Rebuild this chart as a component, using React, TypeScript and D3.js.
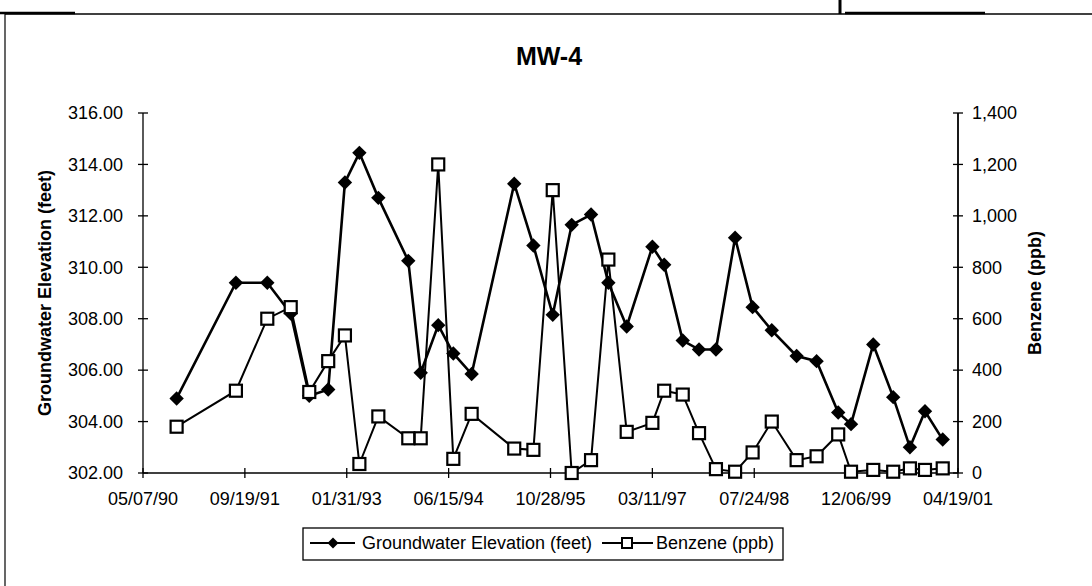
import React from 'react';
import * as d3 from 'd3';

// sampling dates (MW-4)
const sampleDates = [
  '1990-10-19', '1991-08-06', '1992-01-07', '1992-05-01', '1992-07-31', '1992-11-01',
  '1993-01-22', '1993-04-03', '1993-07-05', '1993-11-29', '1994-01-29', '1994-04-25',
  '1994-07-08', '1994-10-06', '1995-05-03', '1995-08-05', '1995-11-08', '1996-02-09',
  '1996-05-14', '1996-08-07', '1996-11-05', '1997-03-11', '1997-05-08', '1997-08-07',
  '1997-10-26', '1998-01-17', '1998-04-21', '1998-07-16', '1998-10-18', '1999-02-17',
  '1999-05-26', '1999-09-09', '1999-11-11', '2000-02-28', '2000-06-05', '2000-08-26',
  '2000-11-08', '2001-02-03',
];

// groundwater elevation, feet
const groundwater = [
  304.9, 309.4, 309.4, 308.2, 305.0, 305.25, 313.3, 314.45, 312.7, 310.25, 305.9, 307.75,
  306.65, 305.85, 313.25, 310.85, 308.15, 311.65, 312.05, 309.4, 307.7, 310.8, 310.1, 307.15,
  306.8, 306.8, 311.15, 308.45, 307.55, 306.55, 306.35, 304.35, 303.9, 307.0, 304.95, 303.0,
  304.4, 303.3,
];

// benzene, ppb
const benzene = [
  180, 320, 600, 645, 315, 435, 535, 35, 220, 135, 135, 1200, 55, 230, 95, 90, 1100, 0, 50,
  830, 160, 195, 320, 305, 155, 15, 5, 80, 200, 50, 65, 150, 5, 12, 5, 18, 12, 18,
];

const xTickDates = [
  '1990-05-07', '1991-09-19', '1993-01-31', '1994-06-15', '1995-10-28',
  '1997-03-11', '1998-07-24', '1999-12-06', '2001-04-19',
];
const leftTicks = [302, 304, 306, 308, 310, 312, 314, 316];
const rightTicks = [0, 200, 400, 600, 800, 1000, 1200, 1400];

const FONT = '"Liberation Sans", Arial, sans-serif';
const parse = d3.utcParse('%Y-%m-%d');
const fmtDate = d3.utcFormat('%m/%d/%y');

export default function App() {
  const width = 1092;
  const height = 586;
  const left = 143, right = 958, top = 113, bottom = 473;

  const x = d3.scaleUtc()
    .domain([parse(xTickDates[0])!, parse(xTickDates[xTickDates.length - 1])!])
    .range([left, right]);
  const yL = d3.scaleLinear().domain([302, 316]).range([bottom, top]);
  const yR = d3.scaleLinear().domain([0, 1400]).range([bottom, top]);

  const gwData = sampleDates.map((d, i) => ({ x: x(parse(d)!), y: yL(groundwater[i]) }));
  const bzData = sampleDates.map((d, i) => ({ x: x(parse(d)!), y: yR(benzene[i]) }));

  const line = d3.line<{ x: number; y: number }>().x(d => d.x).y(d => d.y);
  const diamond = (cx: number, cy: number, r = 7.2) =>
    `M${cx},${cy - r}L${cx + r},${cy}L${cx},${cy + r}L${cx - r},${cy}Z`;
  const sq = 12;

  const midY = (top + bottom) / 2;

  return (
    <svg width={width} height={height} style={{ position: 'absolute', left: 0, top: 0, background: '#fff' }}
      fontFamily={FONT}>
      {/* page frame */}
      <line x1={5} y1={14} x2={width} y2={14} stroke="#000" strokeWidth={1.5} />
      <line x1={0} y1={13} x2={75} y2={13} stroke="#000" strokeWidth={2.5} />
      <line x1={845} y1={13} x2={985} y2={13} stroke="#000" strokeWidth={2.5} />
      <line x1={840} y1={0} x2={840} y2={14} stroke="#000" strokeWidth={3} />
      <line x1={5} y1={14} x2={5} y2={height} stroke="#000" strokeWidth={1.2} />

      <text x={549} y={65} textAnchor="middle" fontSize={25} fontWeight="bold">MW-4</text>

      {/* left axis */}
      <line x1={left} y1={top} x2={left} y2={bottom} stroke="#000" strokeWidth={1.3} />
      {leftTicks.map(t => (
        <g key={'l' + t}>
          <line x1={left - 5} x2={left + 5} y1={yL(t)} y2={yL(t)} stroke="#000" strokeWidth={1.3} />
          <text x={123} y={yL(t)} dy="0.35em" textAnchor="end" fontSize={18}>{t.toFixed(2)}</text>
        </g>
      ))}
      <text transform={`translate(45,${midY}) rotate(-90)`} textAnchor="middle" dy="0.35em"
        fontSize={18} fontWeight="bold">Groundwater Elevation (feet)</text>

      {/* right axis */}
      <line x1={right} y1={top} x2={right} y2={bottom} stroke="#000" strokeWidth={1.8} />
      {rightTicks.map(t => (
        <g key={'r' + t}>
          <line x1={right - 5} x2={right + 5} y1={yR(t)} y2={yR(t)} stroke="#000" strokeWidth={1.3} />
          <text x={972} y={yR(t)} dy="0.35em" textAnchor="start" fontSize={18}>{d3.format(',')(t)}</text>
        </g>
      ))}
      <text transform={`translate(1035,${midY}) rotate(-90)`} textAnchor="middle" dy="0.35em"
        fontSize={18} fontWeight="bold">Benzene (ppb)</text>

      {/* x axis */}
      <line x1={left} y1={bottom} x2={right} y2={bottom} stroke="#000" strokeWidth={1.5} />
      {xTickDates.map(d => {
        const tx = x(parse(d)!);
        return (
          <g key={d}>
            <line x1={tx} x2={tx} y1={bottom - 5} y2={bottom + 5} stroke="#000" strokeWidth={1.3} />
            <text x={tx} y={505} textAnchor="middle" fontSize={18}>{fmtDate(parse(d)!)}</text>
          </g>
        );
      })}

      {/* groundwater series */}
      <path d={line(gwData) || ''} fill="none" stroke="#000" strokeWidth={2.6} />
      {gwData.map((p, i) => <path key={'g' + i} d={diamond(p.x, p.y)} fill="#000" />)}

      {/* benzene series */}
      <path d={line(bzData) || ''} fill="none" stroke="#000" strokeWidth={2} />
      {bzData.map((p, i) => (
        <rect key={'b' + i} x={p.x - sq / 2} y={p.y - sq / 2} width={sq} height={sq}
          fill="#fff" stroke="#000" strokeWidth={2.2} />
      ))}

      {/* legend */}
      <rect x={303} y={528} width={480} height={32} fill="#fff" stroke="#000" strokeWidth={1.3} />
      <line x1={310} x2={355} y1={543} y2={543} stroke="#000" strokeWidth={2} />
      <path d={diamond(333, 543, 5.5)} fill="#000" />
      <text x={362} y={543} dy="0.35em" fontSize={18}>Groundwater Elevation (feet)</text>
      <line x1={602} x2={653} y1={543} y2={543} stroke="#000" strokeWidth={2} />
      <rect x={627 - 5} y={538} width={10} height={10} fill="#fff" stroke="#000" strokeWidth={2} />
      <text x={656} y={543} dy="0.35em" fontSize={18}>Benzene (ppb)</text>
    </svg>
  );
}
